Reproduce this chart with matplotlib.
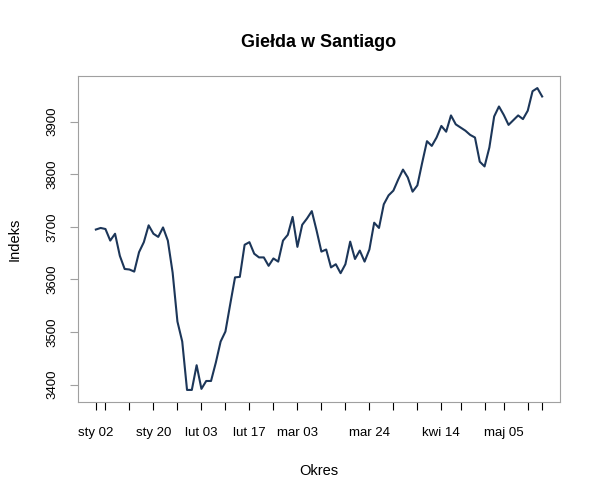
import matplotlib
matplotlib.use("Agg")
import matplotlib.pyplot as plt
import pandas as pd

# trading days, Santiago 2003 (Good Friday and 1 May closed)
dates = pd.bdate_range("2003-01-02", "2003-05-15")
dates = dates[~dates.isin(pd.to_datetime(["2003-04-18", "2003-05-01"]))]

index_values = [
    3695, 3698, 3696, 3674, 3687, 3645, 3620, 3619, 3615, 3652,
    3671, 3703, 3687, 3681, 3699, 3674, 3613, 3520, 3482, 3390,
    3390, 3437, 3392, 3407, 3407, 3442, 3482, 3501, 3553, 3604,
    3605, 3666, 3671, 3649, 3642, 3642, 3626, 3640, 3634, 3674,
    3685, 3719, 3662, 3704, 3716, 3730, 3693, 3653, 3657, 3623,
    3629, 3612, 3629, 3672, 3639, 3655, 3634, 3657, 3708, 3698,
    3743, 3760, 3769, 3790, 3809, 3794, 3767, 3779, 3822, 3863,
    3854, 3870, 3892, 3881, 3912, 3895, 3889, 3883, 3875, 3870,
    3824, 3815, 3851, 3910, 3929, 3913, 3894, 3903, 3912, 3905,
    3921, 3958, 3964, 3948,
]

# labels R managed to fit on the axis
labelled = ["2003-01-02", "2003-01-20", "2003-02-03", "2003-02-17",
            "2003-03-03", "2003-03-24", "2003-04-14", "2003-05-05"]
months_pl = {1: "sty", 2: "lut", 3: "mar", 4: "kwi", 5: "maj"}

y_ticks = [3400, 3500, 3600, 3700, 3800, 3900]

x = list(range(len(dates)))

plt.rcParams["font.family"] = ["Liberation Sans", "DejaVu Sans"]

fig = plt.figure(figsize=(6, 5), dpi=100)
ax = fig.add_axes([78 / 600, 98 / 500, 482 / 600, 326 / 500])

ax.plot(x, index_values, color="#1c3659", lw=1.5)

n = len(x)
ax.set_xlim(-0.04 * (n - 1), (n - 1) * 1.04)
lo, hi = min(index_values), max(index_values)
ax.set_ylim(lo - 0.04 * (hi - lo), hi + 0.04 * (hi - lo))

# ticks: every Monday plus first and last day
tick_pos = [i for i, d in enumerate(dates) if d.weekday() == 0]
tick_pos = [0] + tick_pos + [n - 1]
lab_set = set(pd.to_datetime(labelled))
tick_lab = []
for i in tick_pos:
    d = dates[i]
    tick_lab.append(f"{months_pl[d.month]} {d.day:02d}" if d in lab_set else "")
ax.set_xticks(tick_pos)
ax.set_xticklabels(tick_lab)

ax.set_yticks(y_ticks)
ax.set_yticklabels([str(v) for v in y_ticks], rotation=90, va="center")

for s in ax.spines.values():
    s.set_color("#a0a0a0")
    s.set_linewidth(0.8)

ax.tick_params(axis="x", length=6, width=0.8, color="black", pad=12, labelsize=9.5)
ax.tick_params(axis="y", length=6, width=0.8, color="#a0a0a0", pad=8, labelsize=9.5)

ax.set_title("Giełda w Santiago", fontsize=13, fontweight="bold", pad=21)
ax.set_xlabel("Okres", fontsize=10.5, labelpad=18)
ax.set_ylabel("Indeks", fontsize=10.5, labelpad=18)

fig.savefig("out.png", dpi=100)
